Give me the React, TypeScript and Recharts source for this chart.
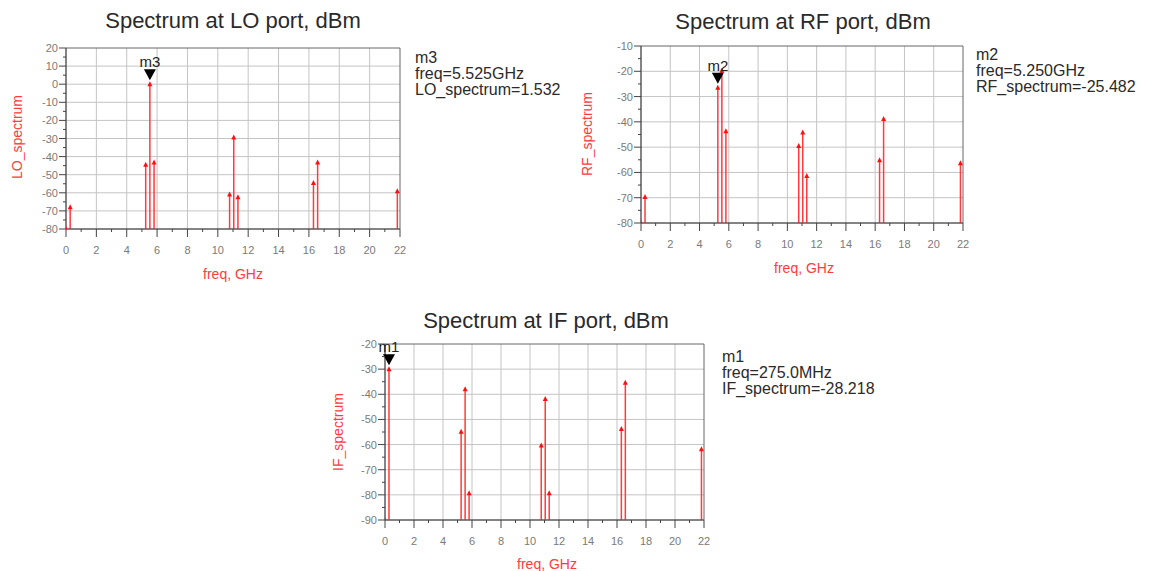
import {
  ComposedChart,
  Line,
  Scatter,
  XAxis,
  YAxis,
  CartesianGrid,
  ReferenceArea,
  ReferenceDot,
} from 'recharts'

// mixing products seen on all three ports, GHz
const freqGHz = [0, 0.275, 5.25, 5.525, 5.8, 10.775, 11.05, 11.325, 16.3, 16.575, 21.825]

const loSpectrum = [-80, -68, -44.5, 0, -43.3, -61, -29.5, -62.5, -54.6, -43.3, -59.2]
const rfSpectrum = [-80, -69.7, -26.5, -19.8, -43.7, -49.5, -44.2, -61.4, -55.2, -38.9, -56.4]
const ifSpectrum = [-90, -30, -54.9, -38, -79.4, -60.4, -41.9, -79.4, -53.8, -35.4, -61.9]

const freqTicks = [0, 1, 2, 3, 4, 5, 6, 7, 8, 9, 10, 11, 12, 13, 14, 15, 16, 17, 18, 19, 20, 21, 22]
const freqGrid = [2, 4, 6, 8, 10, 12, 14, 16, 18, 20]

const loTicks = [-80, -75, -70, -65, -60, -55, -50, -45, -40, -35, -30, -25, -20, -15, -10, -5, 0, 5, 10, 15, 20]
const loGrid = [-70, -60, -50, -40, -30, -20, -10, 0, 10]
const rfTicks = [-80, -75, -70, -65, -60, -55, -50, -45, -40, -35, -30, -25, -20, -15, -10]
const rfGrid = [-70, -60, -50, -40, -30, -20]
const ifTicks = [-90, -85, -80, -75, -70, -65, -60, -55, -50, -45, -40, -35, -30, -25, -20]
const ifGrid = [-80, -70, -60, -50, -40, -30]

const FONT = '"Liberation Sans", Arial, sans-serif'
const RED = '#ff3b3b'
const ML = 60
const MT = 30
const MR = 20
const MB = 40

interface PlotProps {
  left: number
  top: number
  width: number
  height: number
  values: number[]
  yTicks: number[]
  yGrid: number[]
  yMin: number
  yMax: number
  markerIndex: number
  markerName: string
  markerLines: string[]
  textLeft: number
  textTop: number
  title: string
  titleX: number
  titleY: number
  xLabelX: number
  xLabelY: number
  yLabel: string
  yLabelX: number
  yLabelY: number
}

function SpectrumPlot(p: PlotProps) {
  const stems: { f: number; v: number | null }[] = []
  freqGHz.forEach((f, i) => {
    stems.push({ f, v: p.yMin })
    stems.push({ f, v: p.values[i] })
    stems.push({ f, v: null })
  })
  const points = freqGHz.map((f, i) => ({ f, v: p.values[i] }))
  const bottom = MT + p.height

  const FreqTick = (props: any) => {
    const { x, payload } = props
    const major = payload.value % 2 === 0
    return (
      <g>
        <line x1={x} x2={x} y1={bottom} y2={bottom + (major ? 8 : 3)} stroke="#444" />
        {major && (
          <text x={x} y={bottom + 25} textAnchor="middle" fontSize={11} fill="#7a7a7a" fontFamily={FONT}>
            {payload.value}
          </text>
        )}
      </g>
    )
  }

  const LevelTick = (props: any) => {
    const { y, payload } = props
    const major = payload.value % 10 === 0
    return (
      <g>
        <line x1={ML - (major ? 7 : 3)} x2={ML} y1={y} y2={y} stroke="#444" />
        {major && (
          <text x={ML - 8} y={y + 4} textAnchor="end" fontSize={11} fill="#7a7a7a" fontFamily={FONT}>
            {payload.value}
          </text>
        )}
      </g>
    )
  }

  const Marker = (props: any) => {
    const { cx, cy } = props
    return (
      <g>
        <polygon points={`${cx - 6},${cy - 15} ${cx + 6},${cy - 15} ${cx},${cy - 4}`} fill="#000" />
        <text x={cx} y={cy - 17} textAnchor="middle" fontSize={15} fill="#222" fontFamily={FONT}>
          {p.markerName}
        </text>
      </g>
    )
  }

  const Tip = (props: any) => {
    const { cx, cy } = props
    return <polygon points={`${cx - 2.5},${cy + 2} ${cx + 2.5},${cy + 2} ${cx},${cy - 3}`} fill="#ff1010" />
  }

  return (
    <>
      <div
        style={{
          position: 'absolute',
          left: p.left - ML,
          top: p.top - MT,
        }}
      >
        <ComposedChart
          width={ML + p.width + MR}
          height={MT + p.height + MB}
          data={stems}
          margin={{ top: MT, right: MR, bottom: 0, left: 0 }}
        >
          <CartesianGrid
            stroke="#c4c4c4"
            horizontalValues={p.yGrid}
            verticalValues={freqGrid}
          />
          <XAxis
            dataKey="f"
            type="number"
            domain={[0, 22]}
            ticks={freqTicks}
            interval={0}
            allowDataOverflow
            axisLine={{ stroke: '#555' }}
            tickLine={false}
            height={MB}
            tick={FreqTick}
          />
          <YAxis
            type="number"
            domain={[p.yMin, p.yMax]}
            ticks={p.yTicks}
            interval={0}
            allowDataOverflow
            axisLine={{ stroke: '#555' }}
            tickLine={false}
            width={ML}
            tick={LevelTick}
          />
          <ReferenceArea
            x1={0}
            x2={22}
            y1={p.yMin}
            y2={p.yMax}
            fill="none"
            stroke="#666"
            strokeOpacity={1}
            strokeWidth={1}
            ifOverflow="visible"
          />
          <Line
            dataKey="v"
            type="linear"
            stroke={RED}
            strokeWidth={1.5}
            dot={false}
            activeDot={false}
            connectNulls={false}
            isAnimationActive={false}
          />
          <Scatter data={points} dataKey="v" shape={Tip} isAnimationActive={false} />
          <ReferenceDot
            x={freqGHz[p.markerIndex]}
            y={p.values[p.markerIndex]}
            ifOverflow="visible"
            shape={Marker}
          />
        </ComposedChart>
      </div>
      <div
        style={{
          position: 'absolute',
          left: p.titleX,
          top: p.titleY,
          transform: 'translate(-50%, -50%)',
          fontSize: 22,
          lineHeight: 1,
          whiteSpace: 'nowrap',
          color: '#2a2a2a',
        }}
      >
        {p.title}
      </div>
      <div
        style={{
          position: 'absolute',
          left: p.xLabelX,
          top: p.xLabelY,
          transform: 'translate(-50%, -50%)',
          fontSize: 14,
          lineHeight: 1,
          whiteSpace: 'nowrap',
          color: RED,
        }}
      >
        freq, GHz
      </div>
      <div
        style={{
          position: 'absolute',
          left: p.yLabelX,
          top: p.yLabelY,
          transform: 'translate(-50%, -50%) rotate(-90deg)',
          fontSize: 14,
          lineHeight: 1,
          whiteSpace: 'nowrap',
          color: RED,
        }}
      >
        {p.yLabel}
      </div>
      <div
        style={{
          position: 'absolute',
          left: p.textLeft,
          top: p.textTop,
          fontSize: 16,
          lineHeight: '16px',
          whiteSpace: 'nowrap',
          color: '#2a2a2a',
        }}
      >
        <div>{p.markerName}</div>
        {p.markerLines.map((l) => (
          <div key={l}>{l}</div>
        ))}
      </div>
    </>
  )
}

export default function App() {
  return (
    <div
      style={{
        position: 'absolute',
        left: 0,
        top: 0,
        width: 1151,
        height: 571,
        background: '#fff',
        fontFamily: FONT,
        overflow: 'hidden',
      }}
    >
      <SpectrumPlot
        left={66}
        top={48}
        width={334}
        height={181}
        values={loSpectrum}
        yTicks={loTicks}
        yGrid={loGrid}
        yMin={-80}
        yMax={20}
        markerIndex={3}
        markerName="m3"
        markerLines={['freq=5.525GHz', 'LO_spectrum=1.532']}
        textLeft={415}
        textTop={50}
        title="Spectrum at LO port, dBm"
        titleX={233}
        titleY={21}
        xLabelX={233}
        xLabelY={274}
        yLabel="LO_spectrum"
        yLabelX={17}
        yLabelY={137}
      />
      <SpectrumPlot
        left={641}
        top={46}
        width={322}
        height={177}
        values={rfSpectrum}
        yTicks={rfTicks}
        yGrid={rfGrid}
        yMin={-80}
        yMax={-10}
        markerIndex={2}
        markerName="m2"
        markerLines={['freq=5.250GHz', 'RF_spectrum=-25.482']}
        textLeft={976}
        textTop={47}
        title="Spectrum at RF port, dBm"
        titleX={803}
        titleY={22}
        xLabelX={804}
        xLabelY={268}
        yLabel="RF_spectrum"
        yLabelX={587}
        yLabelY={134}
      />
      <SpectrumPlot
        left={385}
        top={344}
        width={319}
        height={176}
        values={ifSpectrum}
        yTicks={ifTicks}
        yGrid={ifGrid}
        yMin={-90}
        yMax={-20}
        markerIndex={1}
        markerName="m1"
        markerLines={['freq=275.0MHz', 'IF_spectrum=-28.218']}
        textLeft={722}
        textTop={349}
        title="Spectrum at IF port, dBm"
        titleX={546}
        titleY={321}
        xLabelX={547}
        xLabelY={564}
        yLabel="IF_spectrum"
        yLabelX={338}
        yLabelY={432}
      />
    </div>
  )
}
